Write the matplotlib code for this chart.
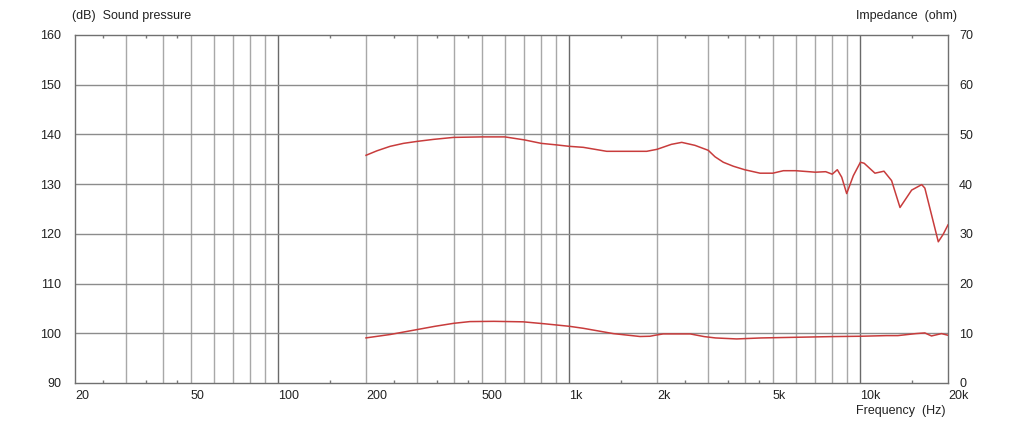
import matplotlib
matplotlib.use("Agg")
import matplotlib.pyplot as plt

# ---------------------------------------------------------------------------
# Data
# ---------------------------------------------------------------------------

spl_freq = [200, 218, 242, 269, 300, 341, 400, 500, 600, 700, 800, 900, 1000,
            1116, 1343, 1658, 1843, 2000, 2240, 2432, 2700, 3000, 3165, 3380,
            3658, 4000, 4520, 5000, 5436, 6000, 7000, 7600, 8000, 8330, 8625,
            8970, 9456, 10000, 10300, 11220, 12050, 12800, 13680, 15000, 16240,
            16650, 18520, 19250, 20000]
spl_db = [135.8, 136.7, 137.6, 138.2, 138.6, 139.0, 139.4, 139.5, 139.5, 138.9,
          138.2, 137.9, 137.6, 137.4, 136.6, 136.6, 136.6, 137.0, 138.0, 138.4,
          137.8, 136.8, 135.5, 134.4, 133.6, 132.9, 132.2, 132.2, 132.7, 132.7,
          132.4, 132.5, 132.0, 132.9, 131.4, 128.1, 131.7, 134.4, 134.2, 132.2,
          132.6, 130.7, 125.3, 128.8, 129.9, 129.2, 118.4, 119.9, 121.8]

imp_freq = [200, 242, 300, 345, 400, 455, 550, 694, 824, 1000, 1116, 1416, 1748,
            1891, 1970, 2100, 2600, 2905, 3177, 3757, 4555, 7960, 10000, 12300,
            13450, 15500, 16650, 17550, 19000, 20000]
imp_ohm = [9.07, 9.75, 10.75, 11.4, 12.0, 12.35, 12.4, 12.3, 11.9, 11.4, 11.0,
           9.93, 9.35, 9.4, 9.6, 9.87, 9.87, 9.33, 9.06, 8.86, 9.06, 9.33, 9.4,
           9.53, 9.53, 9.93, 10.07, 9.46, 9.93, 9.6]

label_freqs = [20, 50, 100, 200, 500, 1000, 2000, 5000, 10000, 20000]
label_texts = ["20", "50", "100", "200", "500", "1k", "2k", "5k", "10k", "20k"]

grid_freqs = [30, 40, 50, 60, 70, 80, 90, 100,
              200, 300, 400, 500, 600, 700, 800, 900, 1000,
              2000, 3000, 4000, 5000, 6000, 7000, 8000, 9000, 10000]
decade_freqs = [100, 1000, 10000]
short_tick_freqs = [25, 35, 45, 150, 250, 350, 450,
                    1500, 2500, 3500, 4500, 15000]

spl_ticks = list(range(90, 161, 10))
imp_ticks = list(range(0, 71, 10))

# ---------------------------------------------------------------------------
# Plot
# ---------------------------------------------------------------------------

plt.rcParams["font.family"] = ["Liberation Sans", "DejaVu Sans"]
plt.rcParams["font.size"] = 9

TEXT = "#222222"
RED = "#c83c3c"

fig = plt.figure(figsize=(10.22, 4.23), dpi=100)
ax = fig.add_axes([0.0734, 0.0946, 0.8542, 0.8227])
ax.set_xscale("log")
ax.set_xlim(20, 20000)
ax.set_ylim(90, 160)

# grid
for f in grid_freqs:
    dark = f in decade_freqs
    ax.axvline(f, color="#6a6a6a" if dark else "#a8a8a8", lw=1.0, zorder=1)
for v in spl_ticks[1:-1]:
    ax.axhline(v, color="#8c8c8c", lw=1.0, zorder=1)

# short inward ticks on top and bottom edges
xform = ax.get_xaxis_transform()
ax.vlines(short_tick_freqs, 0, 0.009, transform=xform, colors="#777777", lw=1.0)
ax.vlines(short_tick_freqs, 0.991, 1, transform=xform, colors="#777777", lw=1.0)

ax.minorticks_off()
ax.set_xticks(label_freqs)
ax.set_xticklabels(label_texts)
for lbl in ax.get_xticklabels():
    lbl.set_horizontalalignment("left")
ax.tick_params(axis="x", length=0, pad=5, colors=TEXT)
ax.set_yticks(spl_ticks)
ax.tick_params(axis="y", length=0, pad=10, colors=TEXT)

for s in ax.spines.values():
    s.set_color("#707070")
    s.set_linewidth(1.0)

ax.plot(spl_freq, spl_db, color=RED, lw=1.1, zorder=3)

ax2 = ax.twinx()
ax2.set_ylim(0, 70)
ax2.set_yticks(imp_ticks)
ax2.tick_params(axis="y", length=0, pad=8, colors=TEXT)
for s in ax2.spines.values():
    s.set_visible(False)
ax2.plot(imp_freq, imp_ohm, color=RED, lw=1.1, zorder=3)

fig.text(0.0705, 1 - 16 / 423, "(dB)  Sound pressure", ha="left", va="center",
         color=TEXT)
fig.text(0.9365, 1 - 16 / 423, "Impedance  (ohm)", ha="right", va="center",
         color=TEXT)
fig.text(0.9256, 1 - 411 / 423, "Frequency  (Hz)", ha="right", va="center",
         color=TEXT)

fig.savefig("out.png", dpi=100)
